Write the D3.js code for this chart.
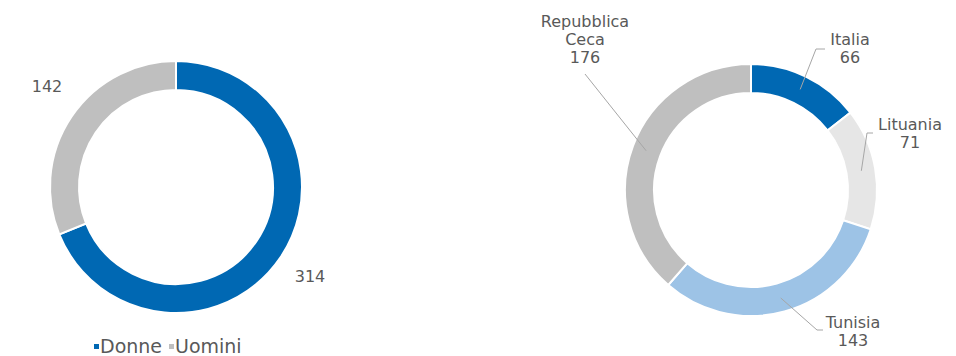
<!DOCTYPE html>
<html lang="it">
<head>
  <meta charset="utf-8">
  <title>donuts</title>
  <style>
  * { margin:0; padding:0; }
  body { background:#fff; }
  svg text { font-family: "DejaVu Sans", sans-serif; fill:#595959; }
  </style>
  <script src="https://d3js.org/d3.v7.min.js"></script>
</head>
<body>
  <svg id="chart" width="956" height="356"></svg>
  <script>
  // data
  var sexLabels = ["Donne", "Uomini"];
  var sexValues = [314, 142];
  var sexColors = ["#0068B3", "#BFBFBF"];

  var countryLabels = ["Italia", "Lituania", "Tunisia", "Repubblica Ceca"];
  var countryValues = [66, 71, 143, 176];
  var countryColors = ["#0068B3", "#E6E6E6", "#9DC3E6", "#BFBFBF"];

  var svg = d3.select("#chart");

  var pie = d3.pie().sort(null).value(function(d){ return d; });
  var rOut = 126, rIn = 97;
  var arc = d3.arc().innerRadius(rIn).outerRadius(rOut);
  var mid = d3.arc().innerRadius(112).outerRadius(112);

  // left donut
  var g1 = svg.append("g").attr("transform", "translate(176,187)");
  var a1 = pie(sexValues);
  g1.selectAll("path").data(a1).enter().append("path")
    .attr("d", arc)
    .attr("fill", function(d,i){ return sexColors[i]; })
    .attr("stroke", "#fff").attr("stroke-width", 2);

  // value labels sit outside the ring, as in the original
  var sexLabPos = [[134, 95], [-129, -95]];
  g1.selectAll("text.val").data(a1).enter().append("text")
    .attr("class", "val")
    .attr("x", function(d,i){ return sexLabPos[i][0]; })
    .attr("y", function(d,i){ return sexLabPos[i][1]; })
    .attr("text-anchor", "middle")
    .style("font-size", "16px")
    .text(function(d){ return d.value; });

  // legend
  var leg = svg.append("g").attr("transform", "translate(94,353)");
  var legX = [0, 75];
  sexLabels.forEach(function(s, i){
    leg.append("rect").attr("x", legX[i]).attr("y", -9).attr("width", 5).attr("height", 5)
      .attr("fill", sexColors[i]);
    leg.append("text").attr("x", legX[i] + 6).attr("y", 0)
      .style("font-size", "19px").text(s);
  });

  // right donut
  var g2 = svg.append("g").attr("transform", "translate(751,190)");
  var a2 = pie(countryValues);
  g2.selectAll("path").data(a2).enter().append("path")
    .attr("d", arc)
    .attr("fill", function(d,i){ return countryColors[i]; })
    .attr("stroke", "#fff").attr("stroke-width", 2);

  // label layout: text centre x, first baseline y, leader points from elbow outwards
  var labLay = [
    { x: 99,  y: -145, pts: [[65, -141], [74, -141]] },
    { x: 159, y: -60,  pts: [[116, -57], [122, -57]] },
    { x: 102, y: 138,  pts: [[66, 140], [72, 140]] },
    { x: -166, y: -163, pts: [[-166, -116]] }
  ];

  a2.forEach(function(d, i){
    var L = labLay[i];
    var c = mid.centroid(d);
    g2.append("path")
      .attr("d", d3.line()([c].concat(L.pts)))
      .attr("fill", "none").attr("stroke", "#A6A6A6").attr("stroke-width", 1);

    var lines = countryLabels[i].split(" ").concat([String(d.value)]);
    var t = g2.append("text").attr("text-anchor", "middle").style("font-size", "16px");
    lines.forEach(function(w, k){
      t.append("tspan").attr("x", L.x).attr("y", L.y + k * 18).text(w);
    });
  });
  </script>
</body>
</html>
